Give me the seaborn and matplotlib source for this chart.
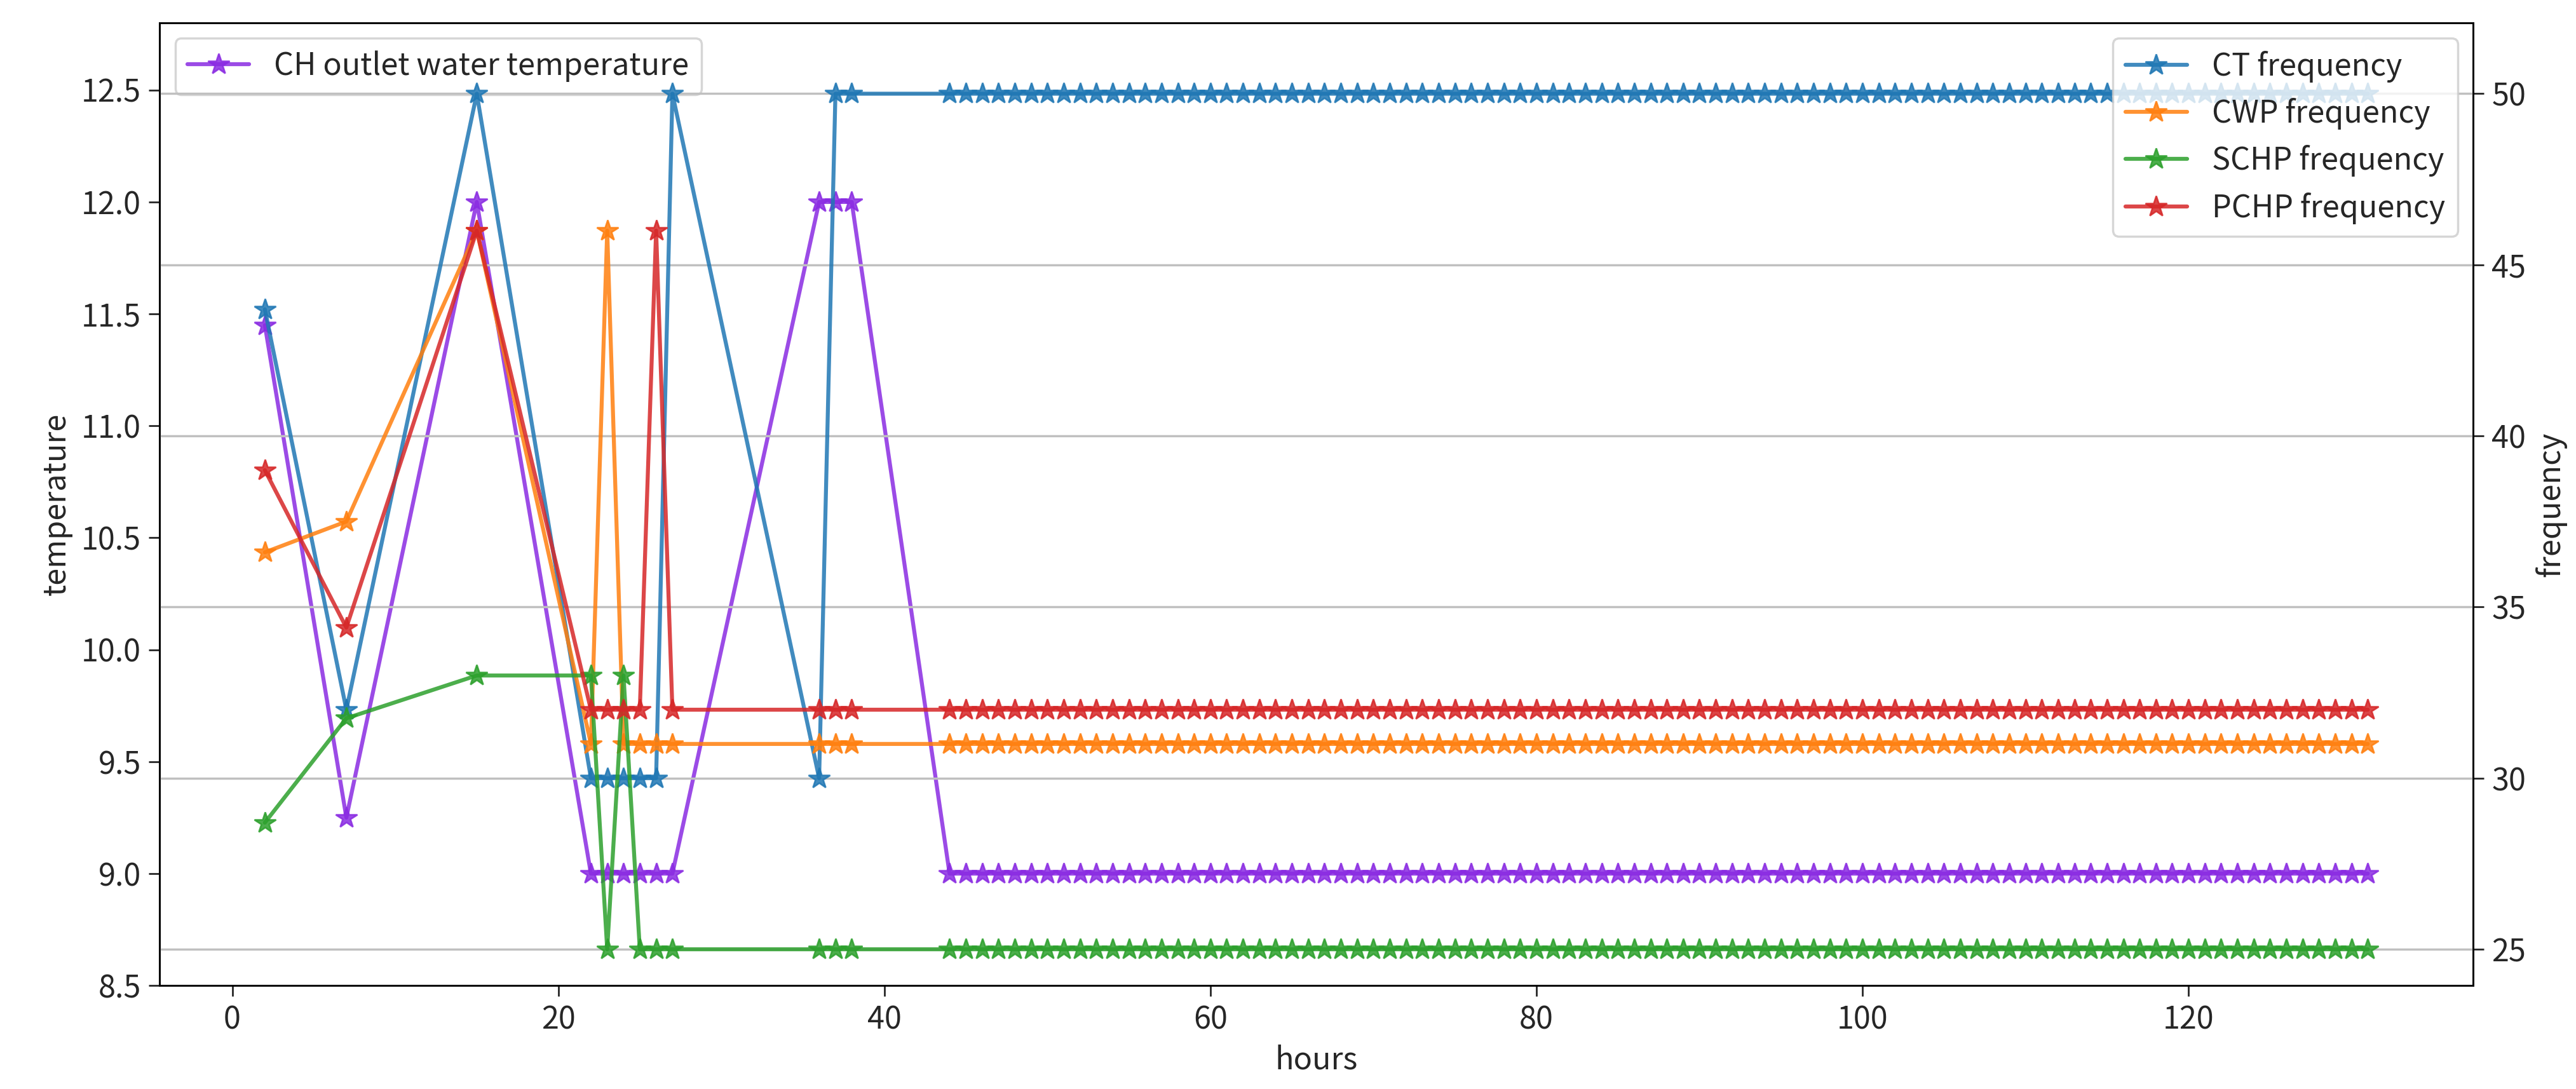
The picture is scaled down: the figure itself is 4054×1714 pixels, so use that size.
import numpy as np
import pandas as pd
import matplotlib
matplotlib.use("Agg")
import matplotlib.pyplot as plt
import seaborn as sns

sns.set_style("white")
plt.rcParams['font.family'] = ['Noto Sans CJK SC', 'DejaVu Sans']
plt.rcParams['axes.unicode_minus'] = False

hours_head = [2, 7, 15, 22, 23, 24, 25, 26, 27, 36, 37, 38]
hours_tail = list(range(44, 132))
hours = hours_head + hours_tail
n_tail = len(hours_tail)

temp_head = [11.45, 9.25, 12.0, 9.0, 9.0, 9.0, 9.0, 9.0, 9.0, 12.0, 12.0, 12.0]
ct_head = [43.7, 32.0, 50, 30, 30, 30, 30, 30, 50, 30, 50, 50]
cwp_head = [36.6, 37.5, 46.0, 31, 46, 31, 31, 31, 31, 31, 31, 31]
schp_head = [28.7, 31.75, 33.0, 33, 25, 33, 25, 25, 25, 25, 25, 25]
pchp_head = [39.0, 34.4, 46.0, 32, 32, 32, 32, 46, 32, 32, 32, 32]

temp = temp_head + [9.0] * n_tail
ct = ct_head + [50] * n_tail
cwp = cwp_head + [31] * n_tail
schp = schp_head + [25] * n_tail
pchp = pchp_head + [32] * n_tail

fs = 14
fig = plt.figure(figsize=(16.216, 6.856), dpi=250)
ax = fig.add_axes([0.062, 0.095, 0.898, 0.884])
ax2 = ax.twinx()

sns.lineplot(x=hours, y=temp, ax=ax, marker='*', color='#8a2be2', markersize=10,
             linewidth=1.8, markeredgecolor='#8a2be2', alpha=0.85,
             label='CH outlet water temperature')
freq_series = [(ct, 'CT frequency', '#1f77b4'), (cwp, 'CWP frequency', '#ff7f0e'),
               (schp, 'SCHP frequency', '#2ca02c'), (pchp, 'PCHP frequency', '#d62728')]
for vals, lab, col in freq_series:
    sns.lineplot(x=hours, y=vals, ax=ax2, marker='*', color=col, markersize=10,
                 linewidth=1.8, markeredgecolor=col, alpha=0.85, label=lab)

ax.set_ylim(8.5, 12.8)
ax2.set_ylim(23.94, 52.07)
ax2.set_yticks([25, 30, 35, 40, 45, 50])
ax.set_xticks([0, 20, 40, 60, 80, 100, 120])
ax2.grid(axis='y', color='#c0c0c0', linewidth=1)
ax.grid(False)
ax.set_xlabel('hours', fontsize=fs)
ax.set_ylabel('temperature', fontsize=fs)
ax2.set_ylabel('frequency', fontsize=fs)
for a in (ax, ax2):
    a.tick_params(labelsize=fs, length=5, left=(a is ax), right=(a is ax2), bottom=True)
    for s in a.spines.values():
        s.set_color('black')
ax.legend(loc='upper left', fontsize=fs)
ax2.legend(loc='upper right', fontsize=fs)

fig.savefig('out.png', dpi=250)
